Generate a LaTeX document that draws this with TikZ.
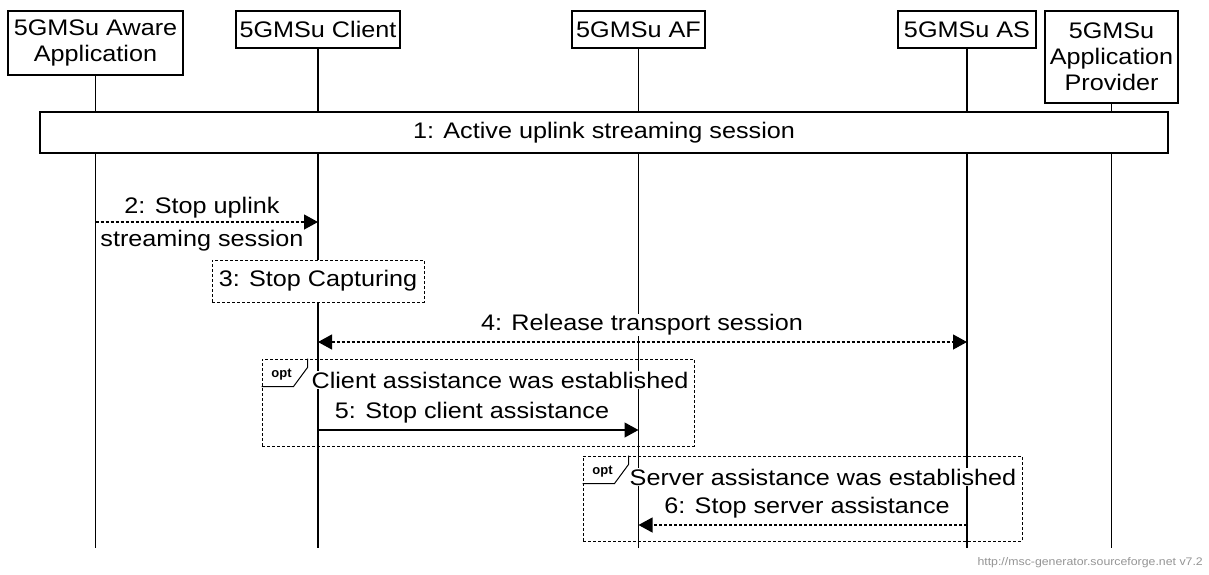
\documentclass[tikz,border=0pt]{standalone}
\usepackage{fontspec}
\setmainfont{Liberation Sans}[FakeStretch=1.12]
\newfontfamily\plainsans{Liberation Sans}
\usetikzlibrary{arrows.meta}
\newcommand\mscfont{\fontsize{22.5}{26}\selectfont}
\begin{document}
\begin{tikzpicture}[x=1pt,y=-1pt,
  hdr/.style={draw, line width=1.2pt, fill=white, inner sep=0pt, align=center, font=\mscfont},
  life/.style={line width=1.2pt},
  bigbox/.style={draw, line width=1.2pt, fill=white, inner sep=0pt, font=\mscfont},
  dbox/.style={draw, line width=1pt, dash pattern=on 3pt off 2pt, fill=white, inner sep=0pt, font=\mscfont},
  optframe/.style={draw, line width=1pt, dash pattern=on 3pt off 2pt, inner sep=0pt},
  lbl/.style={inner sep=1pt, font=\mscfont, align=center},
  lblw/.style={lbl, fill=white},
  tip/.style={-{Triangle[length=14pt,width=15pt]}},
  msg/.style={line width=1.2pt, tip},
  dmsg/.style={line width=1.2pt, dash pattern=on 3pt off 2pt, tip},
  optlbl/.style={inner sep=0pt, font=\plainsans\bfseries\fontsize{13}{14}\selectfont},
  foot/.style={inner sep=0pt, text=black!42, font=\fontsize{11}{12}\selectfont}
]
\useasboundingbox (0,0) rectangle (1209,574);

% header boxes
\node[hdr, minimum width=175pt, minimum height=64pt] (app) at (95.5,43) {5GMSu Aware\\Application};
\node[hdr, minimum width=164pt, minimum height=37pt] (cli) at (318,29.5) {5GMSu Client};
\node[hdr, minimum width=133pt, minimum height=37pt] (af) at (638.5,29.5) {5GMSu AF};
\node[hdr, minimum width=138pt, minimum height=37pt] (as) at (967,29.5) {5GMSu AS};
\node[hdr, minimum width=133pt, minimum height=92pt] (prov) at (1111.5,57) {5GMSu\\Application\\Provider};

% lifeline ends
\coordinate (appE) at (95.5,548);
\coordinate (cliE) at (318,548);
\coordinate (afE) at (638.5,548);
\coordinate (asE) at (967,548);
\coordinate (provE) at (1111.5,548);

\draw[life] (app.south) -- (appE);
\draw[life] (cli.south) -- (cliE);
\draw[life] (af.south) -- (afE);
\draw[life] (as.south) -- (asE);
\draw[life] (prov.south) -- (provE);

% 1: active session
\node[bigbox, minimum width=1128pt, minimum height=41pt] (s1) at (604,132.5) {1: Active uplink streaming session};

% 2: stop uplink streaming session
\node[lbl, font=\fontsize{22.5}{33}\selectfont] (l2) at (202,224) {2: Stop uplink\\streaming session};
\draw[dmsg] (app.south |- 0,222) -- (cli.south |- 0,222);

% 3: stop capturing
\node[dbox, minimum width=212pt, minimum height=42pt] (s3) at (318,281) {3: Stop Capturing};

% 4: release transport session
\node[lblw] (l4) at (642,325) {4: Release transport session};
\draw[dmsg, {Triangle[length=14pt,width=15pt]}-{Triangle[length=14pt,width=15pt]}] (cli.south |- 0,342) -- (as.south |- 0,342);

% opt 1
\node[optframe, minimum width=432pt, minimum height=87pt] (opt1) at (478,402.5) {};
\draw[line width=1pt] (opt1.north west) ++(46,0) -- ++(0,9) -- ++(-14,19) -- ++(-32,0);
\node[optlbl] (opt1t) at ([shift={(20,16)}]opt1.north west) {opt};
\node[lblw] (t1) at (500,380) {Client assistance was established};
\node[lbl] (l5) at (472,413) {5: Stop client assistance};
\draw[msg] (cli.south |- 0,430) -- (af.south |- 0,430);

% opt 2
\node[optframe, minimum width=439pt, minimum height=85pt] (opt2) at (802.5,498.5) {};
\draw[line width=1pt] (opt2.north west) ++(46,0) -- ++(0,9) -- ++(-14,19) -- ++(-32,0);
\node[optlbl] (opt2t) at ([shift={(20,16)}]opt2.north west) {opt};
\node[lblw] (t2) at (823,477) {Server assistance was established};
\node[lbl] (l6) at (807,508) {6: Stop server assistance};
\draw[dmsg] (as.south |- 0,525) -- (af.south |- 0,525);

% footer
\node[foot, anchor=east] (ft) at (1203,563) {http://msc-generator.sourceforge.net v7.2};
\end{tikzpicture}
\end{document}
